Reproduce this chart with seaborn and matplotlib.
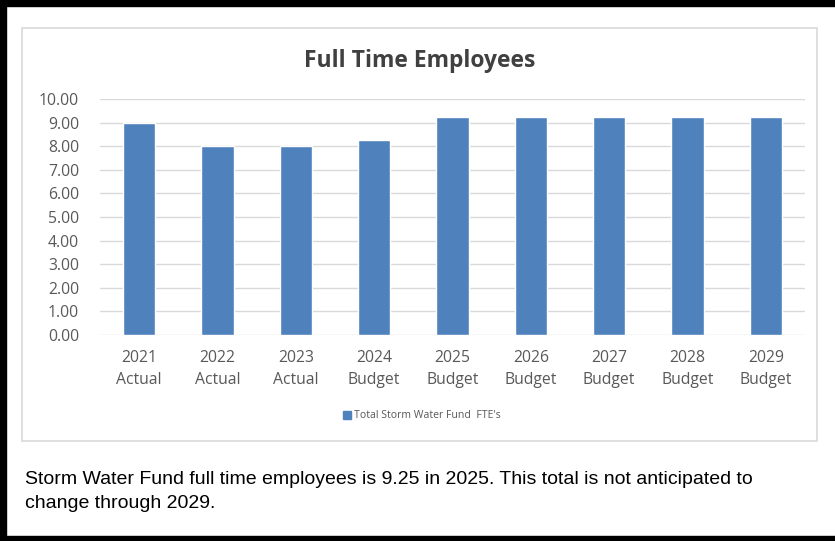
import matplotlib
matplotlib.use("Agg")
import matplotlib.pyplot as plt
import matplotlib.patches as mpatches
import seaborn as sns
import pandas as pd

# Data
years = ["2021", "2022", "2023", "2024", "2025", "2026", "2027", "2028", "2029"]
kinds = ["Actual", "Actual", "Actual", "Budget", "Budget", "Budget", "Budget", "Budget", "Budget"]
fte = [9.00, 8.00, 8.00, 8.25, 9.25, 9.25, 9.25, 9.25, 9.25]
y_ticks = [0, 1, 2, 3, 4, 5, 6, 7, 8, 9, 10]

labels = [f"{y}\n{k}" for y, k in zip(years, kinds)]
df = pd.DataFrame({"label": labels, "fte": fte})

sns.set_style("white")
plt.rcParams["font.family"] = ["Open Sans", "DejaVu Sans"]

W, H = 835, 541
fig = plt.figure(figsize=(W / 100, H / 100), dpi=100)


def fx(px):
    return px / W


def fy(py):
    return 1 - py / H


# Outer black frame (left, top, bottom)
fig.patches.append(mpatches.Rectangle((0, 0), fx(6), 1, transform=fig.transFigure,
                                      color="black", zorder=0))
fig.patches.append(mpatches.Rectangle((0, fy(6)), 1, 6 / H, transform=fig.transFigure,
                                      color="black", zorder=0))
fig.patches.append(mpatches.Rectangle((0, 0), 1, 5 / H, transform=fig.transFigure,
                                      color="black", zorder=0))

# Chart box
fig.patches.append(mpatches.Rectangle((fx(22), fy(441)), fx(817 - 22), (441 - 28) / H,
                                      transform=fig.transFigure, fill=False,
                                      edgecolor="#d9d9d9", linewidth=1.2, zorder=1))

ax = fig.add_axes([fx(100), fy(335), fx(805 - 100), (335 - 99) / H])
sns.barplot(data=df, x="label", y="fte", color="#4f81bd", saturation=1,
            width=0.41, ax=ax, zorder=3)

ax.set_ylim(0, 10)
ax.set_yticks(y_ticks)
ax.set_yticklabels([f"{v:.2f}" for v in y_ticks], fontsize=11.3, color="#595959")
ax.set_xticklabels(labels, fontsize=11.3, color="#595959", linespacing=1.5)
ax.tick_params(axis="both", length=0)
ax.tick_params(axis="x", pad=11)
ax.tick_params(axis="y", pad=15)
ax.set_xlabel("")
ax.set_ylabel("")
ax.set_xlim(-0.5, len(labels) - 0.5)
ax.yaxis.grid(True, color="#d9d9d9", linewidth=1)
ax.set_axisbelow(True)
for s in ax.spines.values():
    s.set_visible(False)

fig.text(fx(420), fy(61), "Full Time Employees", ha="center", va="center",
         fontsize=16.5, fontweight="bold", color="#404040")

# Legend
handle = mpatches.Patch(color="#4f81bd", label="Total Storm Water Fund  FTE's")
fig.legend(handles=[handle], loc="center", bbox_to_anchor=(fx(422), fy(416)),
           frameon=False, fontsize=7.6, handlelength=0.8, handleheight=0.8,
           handletextpad=0.3, labelcolor="#595959")

# Caption
fig.text(fx(25), fy(480), "Storm Water Fund full time employees is 9.25 in 2025. This total is not anticipated to",
         ha="left", va="center", fontsize=14, family="Liberation Sans", color="black")
fig.text(fx(25), fy(504), "change through 2029.",
         ha="left", va="center", fontsize=14, family="Liberation Sans", color="black")

fig.savefig("out.png", dpi=100)
